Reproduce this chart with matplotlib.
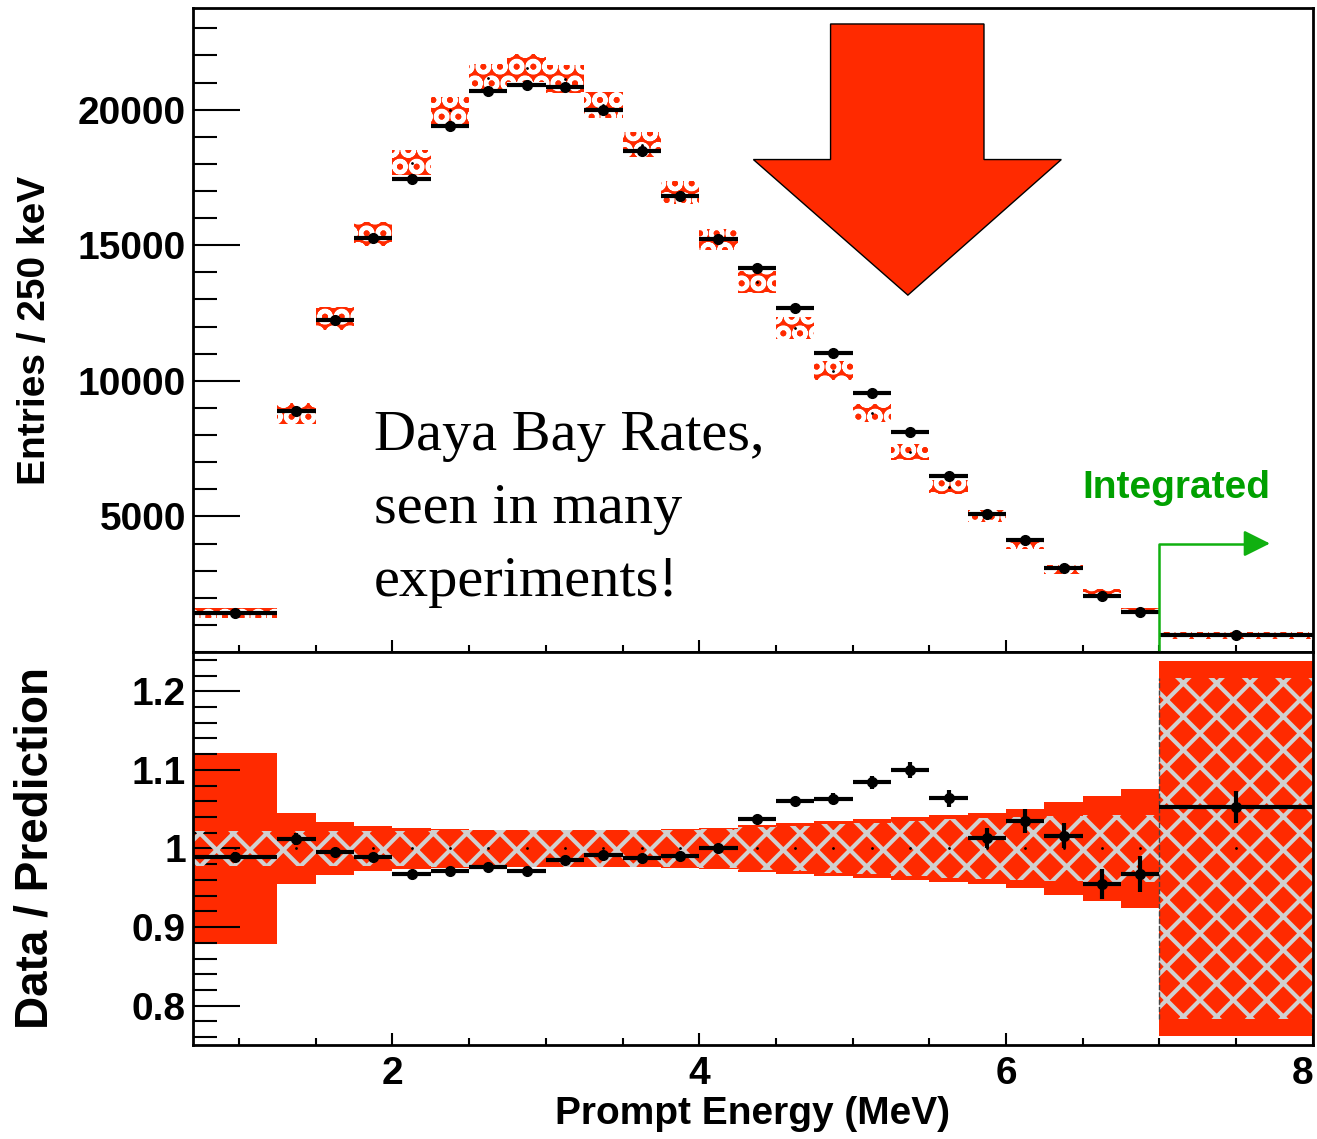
import matplotlib
matplotlib.use("Agg")
import matplotlib.pyplot as plt
import numpy as np
from matplotlib.patches import Polygon
from matplotlib.ticker import FixedLocator, MultipleLocator

# bin edges (MeV); last bin is the integrated 7-8 MeV bin
edges = [0.7, 1.25, 1.5, 1.75, 2.0, 2.25, 2.5, 2.75, 3.0, 3.25, 3.5, 3.75, 4.0,
         4.25, 4.5, 4.75, 5.0, 5.25, 5.5, 5.75, 6.0, 6.25, 6.5, 6.75, 7.0, 8.0]

# observed entries per bin
data_counts = [1430, 8900, 12240, 15250, 17450, 19390, 20670, 20920, 20830, 20000,
               18490, 16800, 15220, 14150, 12670, 11030, 9560, 8110, 6480, 5070,
               4130, 3090, 2080, 1470, 640]

# data / prediction
ratio = [0.989, 1.012, 0.995, 0.989, 0.967, 0.971, 0.976, 0.972, 0.986, 0.992,
         0.988, 0.991, 1.000, 1.038, 1.060, 1.063, 1.084, 1.100, 1.064, 1.013,
         1.035, 1.016, 0.955, 0.968, 1.053]
ratio_err = [0.006, 0.008, 0.006, 0.005, 0.004, 0.004, 0.004, 0.004, 0.004, 0.004,
             0.004, 0.004, 0.004, 0.005, 0.006, 0.007, 0.008, 0.010, 0.011, 0.013,
             0.015, 0.016, 0.019, 0.023, 0.020]

# relative uncertainty bands on the prediction
total_err = [0.122, 0.045, 0.034, 0.029, 0.026, 0.025, 0.024, 0.024, 0.024, 0.024,
             0.024, 0.025, 0.026, 0.030, 0.033, 0.035, 0.037, 0.040, 0.042, 0.045,
             0.050, 0.059, 0.067, 0.076, 0.238]
hatch_err = [0.022, 0.022, 0.022, 0.022, 0.022, 0.023, 0.023, 0.023, 0.023, 0.023,
             0.023, 0.024, 0.025, 0.027, 0.029, 0.031, 0.033, 0.035, 0.037, 0.039,
             0.040, 0.041, 0.042, 0.043, 0.217]

RED = "#ff2a00"
GREEN = "#00a000"
plt.rcParams["font.family"] = ["Liberation Sans", "DejaVu Sans"]
plt.rcParams["font.weight"] = "bold"
plt.rcParams["hatch.linewidth"] = 3.0

edges_a = np.array(edges)
lo = edges_a[:-1]
width = np.diff(edges_a)
centers = lo + width / 2
counts = np.array(data_counts)
r = np.array(ratio)
pred = counts / r
terr = np.array(total_err)
herr = np.array(hatch_err)

fig = plt.figure(figsize=(13.17, 11.39), dpi=100)
ax1 = fig.add_axes([0.1465, 0.4276, 0.8504, 0.5654])
ax2 = fig.add_axes([0.1465, 0.0825, 0.8504, 0.3451], sharex=ax1)

# ---- top panel: spectrum
ax1.bar(lo, 2 * pred * terr, width=width, bottom=pred * (1 - terr), align="edge",
        color=RED, edgecolor="white", hatch="O", linewidth=0, zorder=2)
ax1.plot(centers, pred, "k.", ms=2, zorder=3)
ax1.errorbar(centers, counts, xerr=width / 2, fmt="o", color="black", ms=7,
             elinewidth=3, capsize=0, zorder=4)

ax1.set_xlim(0.7, 8.0)
ax1.set_ylim(0, 23750)
ax1.yaxis.set_major_locator(FixedLocator([5000, 10000, 15000, 20000]))
ax1.yaxis.set_minor_locator(MultipleLocator(1000))
ax1.set_yticklabels(["5000", "10000", "15000", "20000"])
ax1.set_ylabel("Entries / 250 keV", fontsize=28, fontweight="bold", va="center")
ax1.yaxis.set_label_coords(-0.141, 0.5)
ax1.tick_params(axis="x", labelbottom=False)

# big red arrow
arrow = [(4.856, 23160), (5.856, 23160), (5.856, 18160), (6.36, 18160),
         (5.36, 13160), (4.353, 18160), (4.856, 18160)]
ax1.add_patch(Polygon(arrow, closed=True, facecolor=RED, edgecolor="black",
                      linewidth=1, zorder=5))

ax1.text(1.88, 8920, "Daya Bay Rates,\nseen in many\nexperiments!",
         family=["Liberation Serif", "DejaVu Serif"], fontweight="normal",
         fontsize=42, linespacing=1.52, ha="left", va="top", zorder=6)

# integrated-bin marker
ax1.plot([7.0, 7.0, 7.58], [0, 4000, 4000], color="#10b010", lw=1.8, zorder=5)
ax1.annotate("", xy=(7.72, 4000), xytext=(7.56, 4000),
             arrowprops=dict(arrowstyle="-|>", color="#10b010", lw=1.8,
                             mutation_scale=40, shrinkA=0, shrinkB=0), zorder=5)
ax1.text(6.5, 5660, "Integrated", color=GREEN, fontsize=28, fontweight="bold",
         ha="left", va="baseline")

# ---- bottom panel: ratio
ax2.bar(lo, 2 * terr, width=width, bottom=1 - terr, align="edge",
        color=RED, linewidth=0, zorder=1)
ax2.bar(lo, 2 * herr, width=width, bottom=1 - herr, align="edge",
        facecolor="none", edgecolor="#d0d0d0", hatch="x", linewidth=0, zorder=2)
ax2.plot([7.0, 7.0], [1 - herr[-1], 1 + herr[-1]], color="#444444", lw=1,
         ls="--", zorder=3)
ax2.plot(centers, np.ones_like(centers), "k.", ms=2, zorder=3)
ax2.errorbar(centers, r, xerr=width / 2, yerr=ratio_err, fmt="o", color="black",
             ms=7, elinewidth=3, capsize=0, zorder=4)

ax2.set_ylim(0.75, 1.25)
ax2.yaxis.set_major_locator(FixedLocator([0.8, 0.9, 1.0, 1.1, 1.2]))
ax2.yaxis.set_minor_locator(MultipleLocator(0.02))
ax2.set_yticklabels(["0.8", "0.9", "1", "1.1", "1.2"])
ax2.xaxis.set_major_locator(FixedLocator([2, 4, 6, 8]))
ax2.xaxis.set_minor_locator(MultipleLocator(0.5))
ax2.set_xticklabels(["2", "4", "6", "8"])
ax2.set_ylabel("Data / Prediction", fontsize=33, fontweight="bold", va="center")
ax2.yaxis.set_label_coords(-0.141, 0.5)
ax2.set_xlabel("Prompt Energy (MeV)", fontsize=28, fontweight="bold")
ax2.xaxis.set_label_coords(0.5, -0.13)

for ax in (ax1, ax2):
    for s in ax.spines.values():
        s.set_linewidth(2)
    ax.tick_params(axis="y", which="major", direction="in", length=34, width=1.5,
                   labelsize=28, pad=5)
    ax.tick_params(axis="y", which="minor", direction="in", length=17, width=1.5)
    ax.tick_params(axis="x", which="major", direction="in", length=9, width=1.5,
                   labelsize=28, pad=8)
    ax.tick_params(axis="x", which="minor", direction="in", length=5, width=1.5)
    for lab in ax.get_yticklabels() + ax.get_xticklabels():
        lab.set_fontweight("bold")

# keep the "8" inside the canvas
ax2.get_xticklabels()[-1].set_horizontalalignment("right")

fig.savefig("out.png", dpi=100)
